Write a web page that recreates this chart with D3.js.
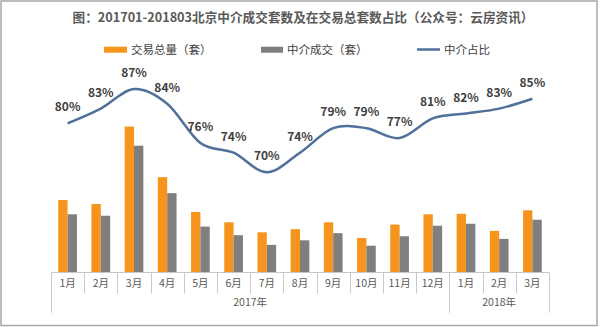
<!DOCTYPE html>
<html><head><meta charset="utf-8">
<script src="https://cdn.jsdelivr.net/npm/d3@7"></script>
<style>
html,body{margin:0;padding:0;background:#fff;}
svg{display:block;font-family:"Noto Sans CJK SC","Noto Sans",sans-serif;}
</style></head>
<body><svg id="c" width="600" height="327"></svg>
<script>
const title = "图：201701-201803北京中介成交套数及在交易总套数占比（公众号：云房资讯）";
const months = ["1月","2月","3月","4月","5月","6月","7月","8月","9月","10月","11月","12月","1月","2月","3月"];
const yearLabels = ["2017年","2018年"];
const yearSpans = [12, 3];
const seriesNames = ["交易总量（套）","中介成交（套）","中介占比"];
const totalDeals = [25300,23900,51000,33300,21100,17500,14000,15100,17500,12000,16700,20300,20500,14500,21700];
const agentDeals = [20300,19800,44300,27700,16000,13000,9600,11200,13700,9300,12600,16300,17000,11700,18400];
const agentShare = [80,83,87,84,76,74,70,74,79,79,77,81,82,83,85];

const colors = {total:"#f7941d", agent:"#7f7f7f", line:"#4f709a"};
const svg = d3.select("#c");
const keys = months.map((m,i)=>i);

// frame
svg.append("rect").attr("x",1).attr("y",1).attr("width",596).attr("height",324.5)
  .attr("fill","none").attr("stroke","#a8a8a8").attr("stroke-width",1.5);

// title
const tt = svg.append("text").attr("x",303).attr("y",21.5).attr("text-anchor","middle")
  .attr("font-size",12.8).attr("font-weight","bold").attr("fill","#595959").text(title);
const tw = tt.node().getComputedTextLength();
if (tw > 463) tt.attr("textLength",461).attr("lengthAdjust","spacingAndGlyphs");

const x = d3.scaleBand().domain(keys).range([51,549]).paddingInner(0).paddingOuter(0);
const xs = d3.scaleBand().domain(["total","agent"]).range([0,18.7]);
const yBar = d3.scaleLinear().domain([0,60000]).range([272.3, 272.3-60000/350]);
const yLine = d3.scaleLinear().domain([60,100]).range([221.3, 25.3]);

const off = (x.bandwidth()-18.7)/2;
const g = svg.append("g");
g.selectAll("rect.t").data(totalDeals).join("rect").attr("class","t")
  .attr("x",(d,i)=>x(i)+off+xs("total")).attr("width",xs.bandwidth())
  .attr("y",d=>yBar(d)).attr("height",d=>yBar(0)-yBar(d)).attr("fill",colors.total);
g.selectAll("rect.a").data(agentDeals).join("rect").attr("class","a")
  .attr("x",(d,i)=>x(i)+off+xs("agent")).attr("width",xs.bandwidth())
  .attr("y",d=>yBar(d)).attr("height",d=>yBar(0)-yBar(d)).attr("fill",colors.agent);

// axis
const ax = svg.append("g").attr("stroke","#c8c8c8").attr("stroke-width",1);
ax.append("line").attr("x1",51).attr("x2",549).attr("y1",272.5).attr("y2",272.5);
let groupBounds = [0]; let acc=0; yearSpans.forEach(s=>{acc+=s; groupBounds.push(acc);});
for(let i=0;i<=months.length;i++){
  const xx = Math.round((i<months.length? x(i) : 549))+0.5;
  const isGroup = groupBounds.includes(i);
  ax.append("line").attr("x1",xx).attr("x2",xx).attr("y1",272.5).attr("y2",isGroup?312.7:293.3);
}
svg.append("g").selectAll("text").data(months).join("text")
  .attr("x",(d,i)=>x(i)+x.bandwidth()/2).attr("y",287).attr("text-anchor","middle")
  .attr("font-size",10.5).attr("fill","#595959").text(d=>d);
let start=0;
yearLabels.forEach((yl,j)=>{
  const x0 = x(start), x1 = start+yearSpans[j]>=months.length ? 549 : x(start+yearSpans[j]);
  svg.append("text").attr("x",(x0+x1)/2).attr("y",305.5).attr("text-anchor","middle")
    .attr("font-size",10.5).attr("fill","#595959").text(yl);
  start += yearSpans[j];
});

// line
const line = d3.line().x((d,i)=>x(i)+x.bandwidth()/2).y(d=>yLine(d)).curve(d3.curveCatmullRom.alpha(0));
svg.append("path").datum(agentShare).attr("d",line).attr("fill","none")
  .attr("stroke",colors.line).attr("stroke-width",2.5);
svg.append("g").selectAll("text").data(agentShare).join("text")
  .attr("x",(d,i)=>x(i)+x.bandwidth()/2).attr("y",d=>yLine(d)-12).attr("text-anchor","middle")
  .attr("font-size",12).attr("font-weight","bold").attr("fill","#404040").text(d=>d+"%");

// legend
const leg = svg.append("g");
const lx = [104,261,417], tx=[131,287,444];
leg.append("rect").attr("x",lx[0]).attr("y",46.7).attr("width",23).attr("height",6).attr("fill",colors.total);
leg.append("rect").attr("x",lx[1]).attr("y",46.7).attr("width",22).attr("height",6).attr("fill",colors.agent);
leg.append("line").attr("x1",lx[2]).attr("x2",lx[2]+23).attr("y1",49.5).attr("y2",49.5).attr("stroke",colors.line).attr("stroke-width",2.5);
seriesNames.forEach((s,i)=>{
  leg.append("text").attr("x",tx[i]).attr("y",53.5).attr("font-size",11.5).attr("fill","#404040").text(s);
});
</script></body></html>
